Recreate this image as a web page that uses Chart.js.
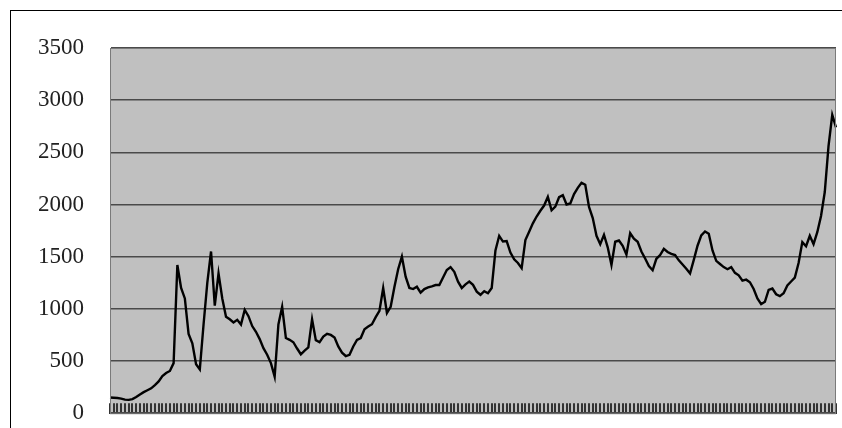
<!DOCTYPE html>
<html>
<head>
<meta charset="utf-8">
<script src="https://cdn.jsdelivr.net/npm/chart.js@4.4.1/dist/chart.umd.min.js"></script>
<style>
  html, body { margin: 0; padding: 0; background: #fff; overflow: hidden; }
  #frame { position: absolute; left: 10px; top: 10px; width: 900px; height: 500px;
           border-left: 1px solid #000; border-top: 1px solid #000; }
  #wrap { position: absolute; left: 0; top: 0; width: 842px; height: 428px; overflow: hidden; }
</style>
</head>
<body>
<div id="frame"></div>
<div id="wrap"><canvas id="chart" width="842" height="453"></canvas></div>
<script>
// monthly closes, Dec 1990 .. Feb 2007
const closeValues = [
  150, 148, 146, 140, 130, 128, 135, 155, 180, 202,
  220, 238, 270, 305, 355, 385, 405, 480, 1420, 1200,
  1100, 760, 670, 470, 420, 850, 1250, 1550, 1030, 1340,
  1100, 925, 900, 870, 895, 850, 990, 930, 835, 780,
  710, 623, 560, 480, 350, 850, 1020, 720, 703, 680,
  620, 565, 600, 630, 900, 700, 680, 734, 760, 750,
  725, 640, 580, 548, 560, 640, 703, 720, 805, 830,
  853, 920, 980, 1200, 960, 1020, 1210, 1380, 1500, 1308,
  1200, 1190, 1212, 1155, 1190, 1205, 1215, 1228, 1228, 1300,
  1372, 1400, 1355, 1260, 1200, 1235, 1262, 1230, 1165, 1135,
  1170, 1150, 1200, 1560, 1700, 1645, 1650, 1540, 1475, 1440,
  1390, 1660, 1740, 1820, 1885, 1940, 1990, 2073, 1945, 1980,
  2070, 2089, 2000, 2010, 2100, 2160, 2208, 2190, 1977, 1870,
  1700, 1620, 1710, 1590, 1420, 1643, 1655, 1605, 1520, 1725,
  1672, 1643, 1550, 1482, 1410, 1370, 1480, 1515, 1575, 1545,
  1527, 1515, 1465, 1425, 1385, 1340, 1470, 1605, 1705, 1742,
  1720, 1560, 1460, 1430, 1400, 1380, 1400, 1345, 1322, 1270,
  1280, 1255, 1190, 1100, 1045, 1068, 1182, 1195, 1140, 1122,
  1150, 1225, 1262, 1300, 1440, 1640, 1600, 1700, 1620, 1735,
  1890, 2120, 2560, 2860, 2740
];

const yTicks = [0, 500, 1000, 1500, 2000, 2500, 3000, 3500];

// one category per month
const months = [];
for (let i = 0; i < closeValues.length; i++) {
  const m = (11 + i) % 12;
  const y = 1990 + Math.floor((11 + i) / 12);
  months.push(y + "/" + String(m + 1).padStart(2, "0"));
}

const plotBg = {
  id: "plotBg",
  beforeDraw(chart) {
    const { ctx, chartArea: a } = chart;
    ctx.save();
    ctx.fillStyle = "#c0c0c0";
    ctx.fillRect(a.left, a.top, a.right - a.left, a.bottom - a.top);
    ctx.restore();
  },
  afterDraw(chart) {
    const { ctx, chartArea: a } = chart;
    ctx.save();
    ctx.strokeStyle = "#7a7a7a";
    ctx.lineWidth = 1;
    ctx.strokeRect(a.left + 0.5, a.top + 0.5, a.right - a.left - 1, a.bottom - a.top);
    ctx.restore();
  }
};

new Chart(document.getElementById("chart"), {
  type: "line",
  data: {
    labels: months,
    datasets: [{
      data: closeValues,
      borderColor: "#000",
      borderWidth: 2.4,
      pointRadius: 0,
      tension: 0
    }]
  },
  options: {
    responsive: false,
    animation: false,
    devicePixelRatio: 1,
    layout: { padding: { left: 10, top: 48, right: 6, bottom: 15 } },
    plugins: { legend: { display: false }, tooltip: { enabled: false } },
    scales: {
      x: {
        ticks: { display: false, autoSkip: false },
        grid: { drawOnChartArea: false, drawTicks: true, tickLength: -10, color: "#333", lineWidth: 2 },
        border: { display: true, color: "#333" },
        afterFit: s => { s.height = 0; }
      },
      y: {
        min: 0,
        max: 3500,
        afterBuildTicks: s => { s.ticks = yTicks.map(v => ({ value: v })); },
        ticks: {
          padding: 26,
          color: "#222",
          font: { family: "Liberation Serif", size: 23 },
          callback: v => String(v)
        },
        grid: { color: "#4a4a4a", lineWidth: 1.6, drawTicks: false },
        border: { display: true, color: "#333", width: 1 },
        afterFit: s => { s.width = 100; }
      }
    }
  },
  plugins: [plotBg]
});
</script>
</body>
</html>
